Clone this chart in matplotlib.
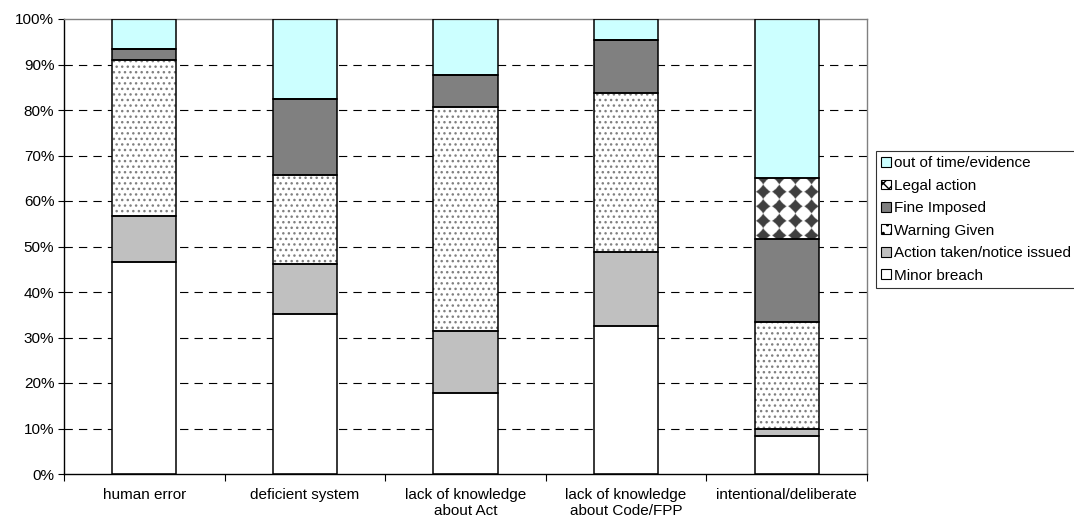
import numpy as np
import matplotlib
matplotlib.use('Agg')
import matplotlib.pyplot as plt
from matplotlib.patches import Patch
from matplotlib.ticker import FixedLocator

plt.rcParams['font.family'] = ['Liberation Sans', 'DejaVu Sans']
plt.rcParams['font.size'] = 11

categories = ['human error', 'deficient system', 'lack of knowledge\nabout Act',
              'lack of knowledge\nabout Code/FPP', 'intentional/deliberate']

# share of outcomes per cause (%), stacked bottom to top
minor_breach = [46.7, 35.1, 17.9, 32.6, 8.4]
action_taken = [9.9, 11.1, 13.5, 16.3, 1.6]
warning_given = [34.4, 19.5, 49.3, 34.8, 23.3]
fine_imposed = [2.3, 16.7, 6.9, 11.6, 18.3]
legal_action = [0.0, 0.0, 0.0, 0.0, 13.5]
out_of_time = [6.7, 17.6, 12.4, 4.7, 34.9]

series = [
    ('Minor breach', minor_breach, dict(facecolor='white')),
    ('Action taken/notice issued', action_taken, dict(facecolor='#c0c0c0')),
    ('Warning Given', warning_given, dict(facecolor='white', hatch='...', edgecolor='#808080')),
    ('Fine Imposed', fine_imposed, dict(facecolor='#808080')),
    ('Legal action', legal_action, dict(facecolor='white')),
    ('out of time/evidence', out_of_time, dict(facecolor='#ccffff')),
]


def diamond_fill(ax, rect, color=(0.25, 0.25, 0.25), period=(16.0, 14.5), half=7.3):
    # paint a grid of dark diamonds inside one bar segment
    x0, y0 = rect.get_x(), rect.get_y()
    x1, y1 = x0 + rect.get_width(), y0 + rect.get_height()
    (px0, py0), (px1, py1) = ax.transData.transform([(x0, y0), (x1, y1)])
    w, h = int(round(px1 - px0)) * 3, int(round(py1 - py0)) * 3
    U, V = np.meshgrid(np.linspace(0, px1 - px0, w), np.linspace(0, py1 - py0, h))
    du = U % period[0] - period[0] / 2
    dv = (V + period[1] / 2) % period[1] - period[1] / 2
    # slightly rounded diamonds
    dist = (np.abs(du) ** 0.85 + np.abs(dv) ** 0.85) ** (1 / 0.85)
    mask = dist < half
    img = np.ones((h, w, 3))
    img[mask] = color
    im = ax.imshow(img, extent=(x0, x1, y0, y1), origin='upper', aspect='auto',
                   interpolation='bilinear', zorder=2.5)
    im.set_clip_path(rect)


fig = plt.figure(figsize=(10.74, 5.21), dpi=100)
ax = fig.add_axes([64 / 1074, 1 - 474 / 521, (867 - 64) / 1074, (474 - 19) / 521])
ax.set_xlim(-0.5, len(categories) - 0.5)
ax.set_ylim(0, 100)

x = np.arange(len(categories))
width = 0.4
bottom = np.zeros(len(categories))
for name, vals, style in series:
    vals = np.array(vals)
    bars = ax.bar(x, vals, width, bottom=bottom, linewidth=0, zorder=2, **style)
    if name == 'Legal action':
        for b in bars:
            if b.get_height() > 0:
                diamond_fill(ax, b)
    ax.bar(x, vals, width, bottom=bottom, fill=False, edgecolor='black',
           linewidth=1.1, zorder=3)
    bottom += vals

yticks = np.arange(0, 101, 10)
for t in yticks[1:-1]:
    ax.axhline(t, color='black', linewidth=0.8, linestyle=(0, (7.5, 5.5)), zorder=1)

ax.set_yticks(yticks)
ax.set_yticklabels([f'{t}%' for t in yticks])
ax.tick_params(axis='y', direction='out', length=4, width=0.8, color='black', pad=3)

ax.set_xticks(x)
ax.set_xticklabels(categories, linespacing=1.15)
ax.tick_params(axis='x', which='major', length=0, pad=10)
ax.xaxis.set_minor_locator(FixedLocator(np.arange(-0.5, len(categories), 1.0)))
ax.tick_params(axis='x', which='minor', direction='out', length=5, width=0.8, color='black')

for side in ['left', 'bottom']:
    ax.spines[side].set_color('black')
    ax.spines[side].set_linewidth(1.0)
for side in ['top', 'right']:
    ax.spines[side].set_color('#808080')
    ax.spines[side].set_linewidth(1.0)

handles = []
for name, vals, style in series:
    st = dict(style)
    st['edgecolor'] = 'black'
    if name == 'Legal action':
        st['hatch'] = 'xxx'
    if name == 'Warning Given':
        st['hatch'] = '..'
    handles.append(Patch(linewidth=0.8, label=name, **st))
handles = handles[::-1]

leg = fig.legend(handles=handles, loc='center left',
                 bbox_to_anchor=(876 / 1074, 1 - 219.5 / 521),
                 frameon=True, fancybox=False, edgecolor='black',
                 handlelength=0.6, handleheight=0.6, handletextpad=0.2,
                 labelspacing=0.55, borderpad=0.35, borderaxespad=0)
leg.get_frame().set_linewidth(0.8)

fig.savefig('out.png', dpi=100)
